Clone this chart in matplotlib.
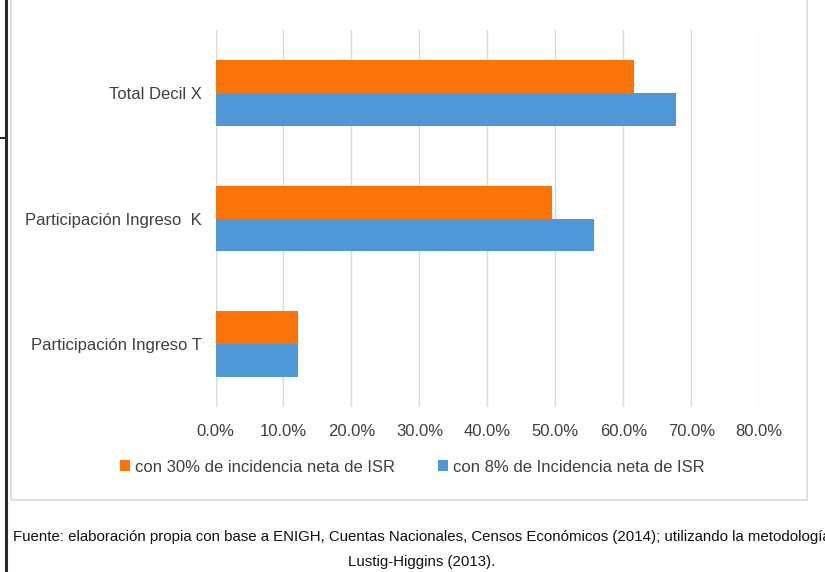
import matplotlib
matplotlib.use("Agg")
import matplotlib.pyplot as plt
from matplotlib.patches import Rectangle
from matplotlib.lines import Line2D
from matplotlib.ticker import FuncFormatter

plt.rcParams['font.family'] = ['Liberation Sans', 'DejaVu Sans']

categories = ["Total Decil X", "Participación Ingreso  K", "Participación Ingreso T"]
serie_30 = [0.616, 0.495, 0.121]
serie_8 = [0.677, 0.557, 0.121]
labels = ["con 30% de incidencia neta de ISR", "con 8% de Incidencia neta de ISR"]
x_ticks = [0.0, 0.1, 0.2, 0.3, 0.4, 0.5, 0.6, 0.7, 0.8]
footnote_1 = ("Fuente: elaboración propia con base a ENIGH, Cuentas Nacionales, Censos Económicos (2014); "
              "utilizando la metodología")
footnote_2 = "Lustig-Higgins (2013)."

c_orange = "#FC7307"
c_blue = "#4F98D8"
text_col = "#3f3f3f"

W, H = 825, 572
fig = plt.figure(figsize=(W / 100, H / 100), dpi=100)

# outer frame of the chart object and page margin line
fig.add_artist(Rectangle((11 / W, 1 - 500 / H), (807 - 11) / W, 520 / H,
                         transform=fig.transFigure, fill=False,
                         edgecolor="#d9d9d9", linewidth=1.2))
fig.add_artist(Line2D([6 / W, 6 / W], [0, 1], transform=fig.transFigure,
                      color="#2b2b2b", linewidth=2.2))
fig.add_artist(Line2D([0, 6 / W], [1 - 138 / H, 1 - 138 / H], transform=fig.transFigure,
                      color="#2b2b2b", linewidth=1.5))

ax = fig.add_axes([215.5 / W, 1 - 407 / H, (759.3 - 215.5) / W, (407 - 30) / H])

pos = list(range(len(categories)))
h = 0.2625
ax.barh([p - h / 2 for p in pos], serie_30, height=h, color=c_orange, label=labels[0], zorder=3)
ax.barh([p + h / 2 for p in pos], serie_8, height=h, color=c_blue, label=labels[1], zorder=3)

ax.set_xlim(0, 0.8)
ax.set_ylim(2.5, -0.5)
ax.set_xticks(x_ticks)
ax.xaxis.set_major_formatter(FuncFormatter(lambda v, _: f"{v * 100:.1f}%"))
ax.set_yticks(pos)
ax.set_yticklabels(categories)
ax.grid(axis="x", color="#d9d9d9", linewidth=1.0, zorder=0)
for s in ax.spines.values():
    s.set_visible(False)
ax.tick_params(axis="both", length=0, labelsize=12, labelcolor=text_col)
ax.tick_params(axis="x", pad=12)
ax.tick_params(axis="y", pad=10)

leg = fig.legend(loc="center", bbox_to_anchor=(412 / W, 1 - 467 / H), ncol=2, frameon=False,
                 fontsize=12, handlelength=0.6, handleheight=0.6, handletextpad=0.3,
                 columnspacing=2.6, labelcolor=text_col)

fig.text(422 / W, 1 - 537 / H, footnote_1, ha="center", va="center", fontsize=10.8, color="#111111")
fig.text(422 / W, 1 - 562 / H, footnote_2, ha="center", va="center", fontsize=10.8, color="#111111")

fig.savefig("out.png", dpi=100)
